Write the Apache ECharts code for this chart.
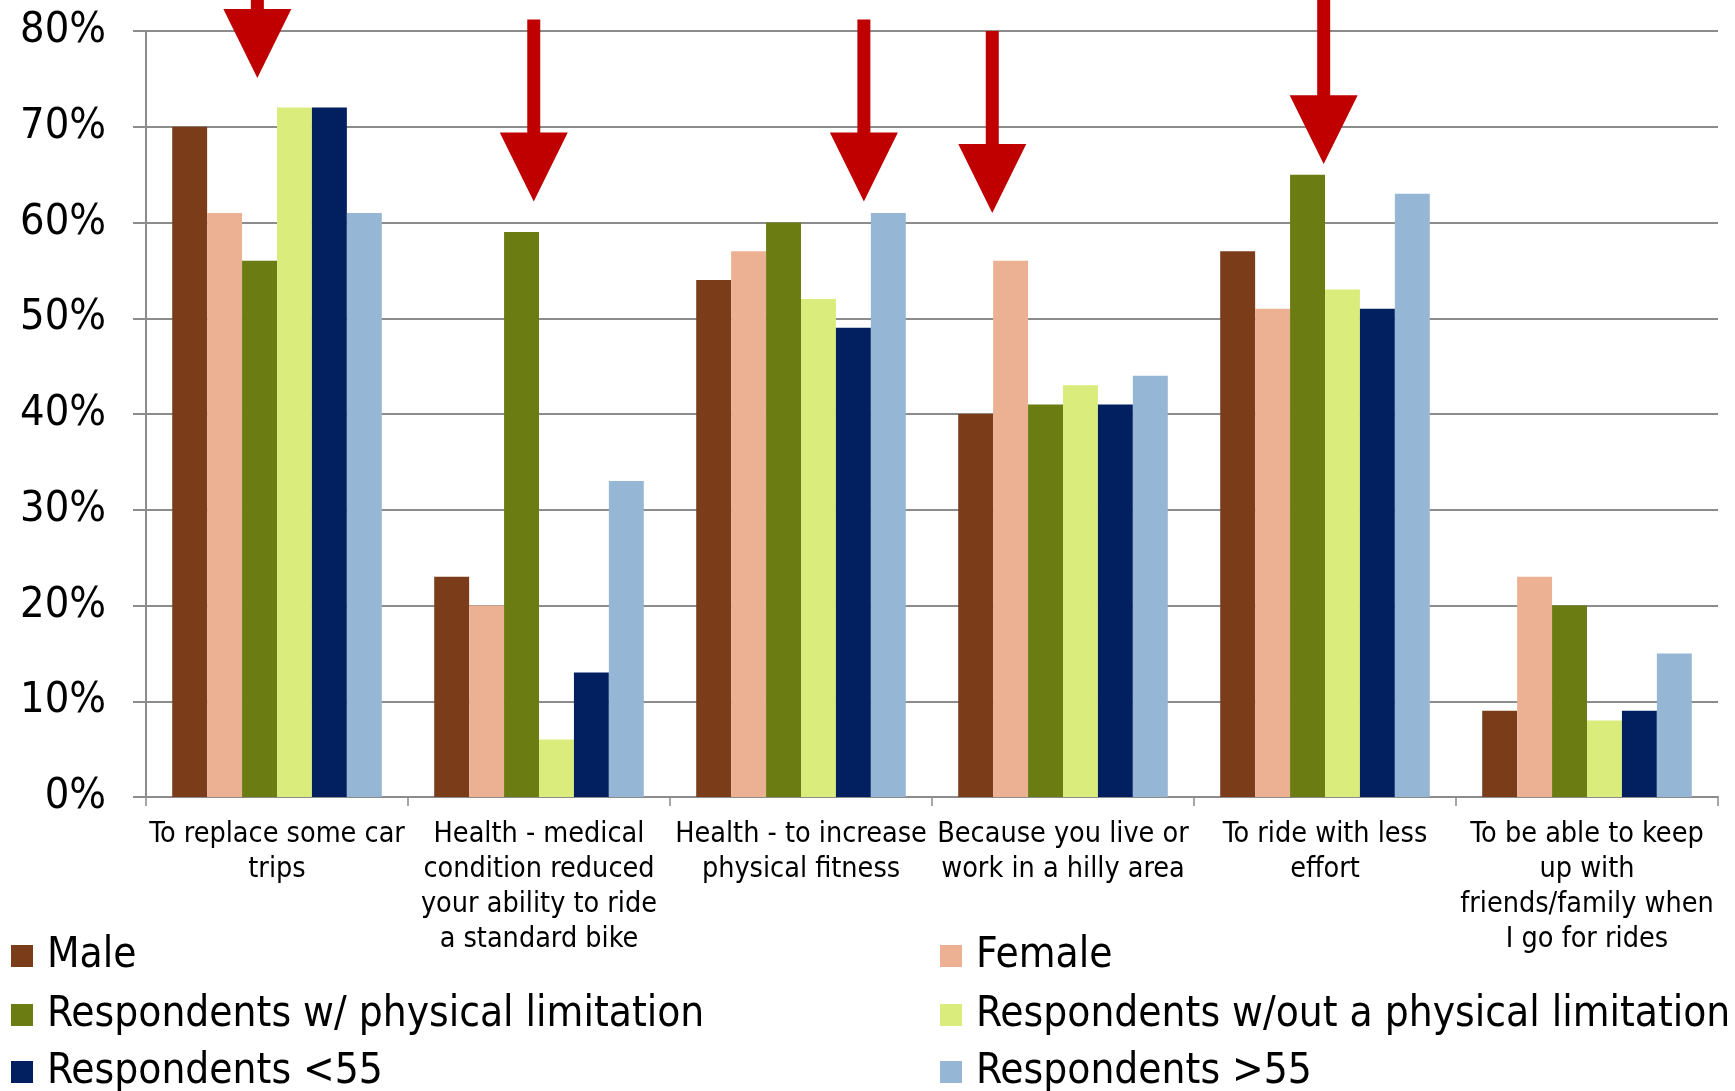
<!DOCTYPE html>
<html>
<head>
<meta charset="utf-8">
<script src="https://cdn.jsdelivr.net/npm/echarts@6/dist/echarts.min.js"></script>
<style>
  html, body { margin: 0; padding: 0; background: #fff; }
  #chart { width: 1735px; height: 1091px; }
</style>
</head>
<body>
<div id="chart"></div>
<script>
// Reasons for using an e-bike, by respondent group (% of respondents)
const categories = [
  'To replace some car\ntrips',
  'Health - medical\ncondition reduced\nyour ability to ride\na standard bike',
  'Health - to increase\nphysical fitness',
  'Because you live or\nwork in a hilly area',
  'To ride with less\neffort',
  'To be able to keep\nup with\nfriends/family when\nI go for rides'
];

const male            = [70, 23, 54, 40, 57, 9];
const female          = [61, 20, 57, 56, 51, 23];
const withLimitation  = [56, 59, 60, 41, 65, 20];
const withoutLimit    = [72, 6, 52, 43, 53, 8];
const under55         = [72, 13, 49, 41, 51, 9];
const over55          = [61, 33, 61, 44, 63, 15];

const seriesNames = [
  'Male',
  'Female',
  'Respondents w/ physical limitation',
  'Respondents w/out a physical limitation',
  'Respondents <55',
  'Respondents >55'
];
const seriesColors = ['#7B3C1A', '#ECB193', '#6B7D12', '#D9EC7C', '#02205F', '#95B6D4'];

const yTicks = [0, 10, 20, 30, 40, 50, 60, 70, 80];

// Call-out arrows: category, horizontal offset (fraction of category width),
// and the value levels of shaft top, head top and tip.
const arrowCategory = [0, 1, 2, 3, 4];
const arrowOffset   = [-0.075, -0.02, 0.24, -0.27, -0.005];
const arrowShaftTop = [85, 81.2, 81.2, 80.0, 85];
const arrowHeadTop  = [82.3, 69.4, 69.4, 68.2, 73.3];
const arrowTip      = [75.1, 62.2, 62.2, 61.0, 66.1];

const FONT = '"DejaVu Sans Condensed", "Liberation Sans Narrow", "Roboto", sans-serif';

const seriesData = [male, female, withLimitation, withoutLimit, under55, over55];

// Legend laid out as two columns of three rows.
const legendLeft = [11, 940, 11, 940, 11, 940];
const legendTop  = [935, 935, 994, 994, 1051, 1051];

const chart = echarts.init(document.getElementById('chart'), null, { renderer: 'canvas' });

const option = {
  animation: false,
  backgroundColor: '#ffffff',
  textStyle: { fontFamily: FONT },
  grid: { left: 146, right: 17, top: 31, bottom: 294, containLabel: false },
  legend: seriesNames.map(function (name, i) {
    return {
      data: [name],
      orient: 'horizontal',
      left: legendLeft[i], top: legendTop[i],
      padding: 0,
      itemWidth: 22, itemHeight: 22,
      icon: 'rect',
      selectedMode: false,
      textStyle: { fontFamily: FONT, fontSize: 42, color: '#000', lineHeight: 42, padding: [0, 0, 0, 9] }
    };
  }),
  xAxis: {
    type: 'category',
    data: categories,
    axisLine: { lineStyle: { color: '#8c8c8c', width: 2 } },
    axisTick: { show: true, length: 9, lineStyle: { color: '#8c8c8c', width: 1.5 } },
    axisLabel: {
      interval: 0, margin: 20, color: '#000', fontFamily: FONT,
      fontSize: 28.5, lineHeight: 35, align: 'center'
    }
  },
  yAxis: {
    type: 'value',
    min: 0, max: 80, interval: 10,
    axisLine: { show: true, lineStyle: { color: '#8c8c8c', width: 2 } },
    axisTick: { show: true, length: 13, lineStyle: { color: '#8c8c8c', width: 2 } },
    splitLine: { lineStyle: { color: '#8c8c8c', width: 2 } },
    axisLabel: {
      margin: 40, color: '#000', fontFamily: FONT, fontSize: 43,
      formatter: function (v) { return yTicks.indexOf(v) >= 0 ? v + '%' : ''; }
    }
  },
  series: seriesData.map(function (vals, i) {
    return {
      name: seriesNames[i],
      type: 'bar',
      data: vals,
      barGap: '0%',
      barCategoryGap: '20%',
      itemStyle: { color: seriesColors[i] },
      emphasis: { disabled: true }
    };
  })
};

chart.setOption(option);

// Place the red arrows using the chart's own axes.
function drawArrows() {
  const x0 = chart.convertToPixel({ xAxisIndex: 0 }, 0);
  const x1 = chart.convertToPixel({ xAxisIndex: 0 }, 1);
  const catW = x1 - x0;
  const shaftHalf = 6.5;
  const headHalf = 34;
  const elements = arrowCategory.map(function (c, i) {
    const cx = chart.convertToPixel({ xAxisIndex: 0 }, c) + arrowOffset[i] * catW;
    const yTop = chart.convertToPixel({ yAxisIndex: 0 }, arrowShaftTop[i]);
    const yHead = chart.convertToPixel({ yAxisIndex: 0 }, arrowHeadTop[i]);
    const yTip = chart.convertToPixel({ yAxisIndex: 0 }, arrowTip[i]);
    return {
      type: 'polygon',
      shape: {
        points: [
          [cx - shaftHalf, yTop], [cx + shaftHalf, yTop],
          [cx + shaftHalf, yHead], [cx + headHalf, yHead],
          [cx, yTip],
          [cx - headHalf, yHead], [cx - shaftHalf, yHead]
        ]
      },
      style: { fill: '#C00000' },
      z: 100
    };
  });
  chart.setOption({ graphic: elements });
}
drawArrows();
</script>
</body>
</html>
